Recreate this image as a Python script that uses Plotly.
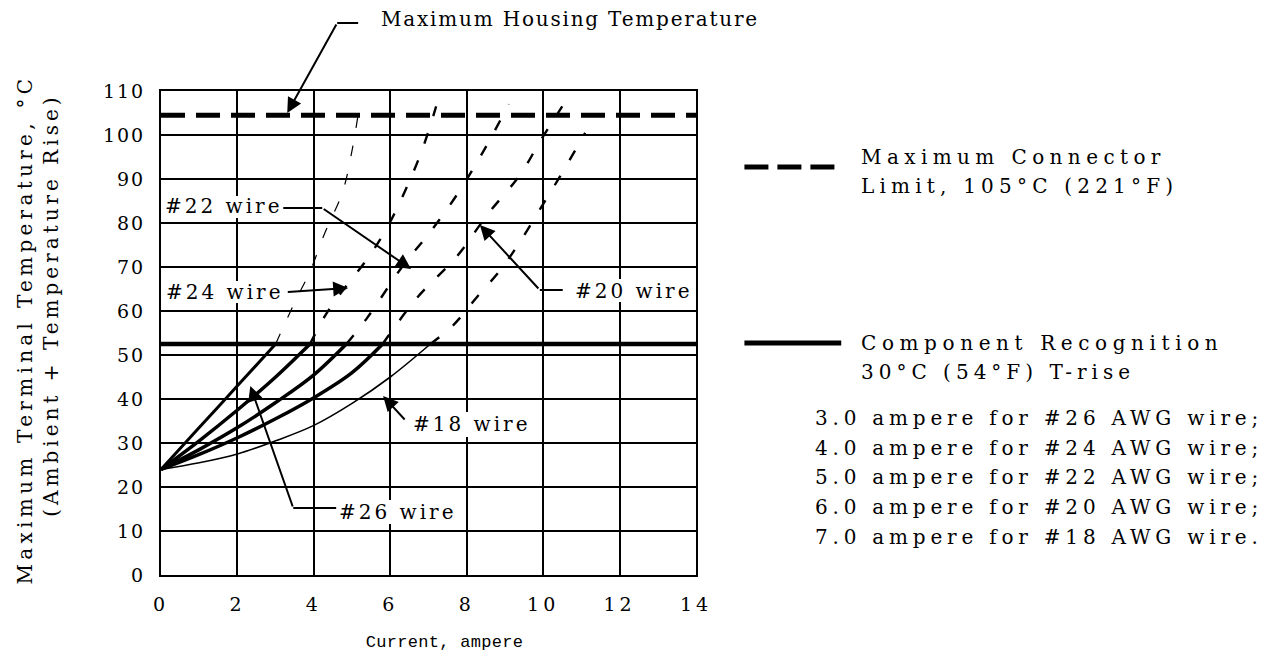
import json
import plotly.graph_objects as go

# ---------------- data ----------------
current_ticks = [0, 2, 4, 6, 8, 10, 12, 14]
temp_ticks = [0, 10, 20, 30, 40, 50, 60, 70, 80, 90, 100, 110]

wire_names = ["#26", "#24", "#22", "#20", "#18"]

# solid part (up to the 30 C T-rise line)
cur_26_solid = [0, 1, 2, 3.0]
tmp_26_solid = [24, 33.5, 43, 52.5]
cur_24_solid = [0, 1, 2, 3, 3.9]
tmp_24_solid = [24, 30.5, 37.5, 45, 52.5]
cur_22_solid = [0, 1, 2, 3, 4, 4.85]
tmp_22_solid = [24, 28.5, 33.5, 39.2, 45.5, 52.5]
cur_20_solid = [0, 1, 2, 3, 4, 5, 5.8]
tmp_20_solid = [24, 27.4, 31.2, 35.5, 40.3, 46, 52.5]
cur_18_solid = [0, 1, 2, 3, 4, 5, 6, 7.05]
tmp_18_solid = [24, 25.5, 27.5, 30.5, 34, 39, 45, 52.5]

# dashed extension above the T-rise line
cur_26_dash = [3.0, 3.5, 3.9, 4.3, 4.75, 5.0, 5.2]
tmp_26_dash = [52.5, 62, 69, 78, 87, 96.5, 107]
cur_24_dash = [3.9, 4.3, 4.7, 5.45, 5.95, 6.45, 6.85, 7.2]
tmp_24_dash = [52.5, 59, 64, 72.5, 79.5, 88.5, 97, 106.5]
cur_22_dash = [4.85, 5.4, 6.35, 7.05, 7.75, 8.45, 9.1]
tmp_22_dash = [52.5, 58.5, 70.5, 78, 86.5, 96.5, 107]
cur_20_dash = [5.8, 6.7, 7.75, 8.55, 9.4, 9.95, 10.5]
tmp_20_dash = [52.5, 63, 72.5, 82, 91, 99, 106.5]
cur_18_dash = [7.05, 7.65, 8.27, 8.88, 9.42, 10.0, 10.45, 10.95, 11.1]
tmp_18_dash = [52.5, 56.8, 63.2, 69.3, 76.1, 84.3, 90.7, 98.2, 100.5]

connector_limit = 104.5
recognition_limit = 52.5

rating_lines = [
    "3.0 ampere for #26 AWG wire;",
    "4.0 ampere for #24 AWG wire;",
    "5.0 ampere for #22 AWG wire;",
    "6.0 ampere for #20 AWG wire;",
    "7.0 ampere for #18 AWG wire.",
]

# ---------------- geometry helpers ----------------
W, H = 1268, 659
L, R, T, B = 160.5, 696.5, 91, 575
XMAX, YMAX = 14, 110


def dx(px):
    return (px - L) / (R - L) * XMAX


def dy(py):
    return (B - py) / (B - T) * YMAX


def pxp(px):
    return (px - L) / (R - L)


def pyp(py):
    return (B - py) / (B - T)


SERIF = "DejaVu Serif"
MONO = "Liberation Mono"

fig = go.Figure()

solid_sets = [
    (cur_26_solid, tmp_26_solid, 3.0),
    (cur_24_solid, tmp_24_solid, 3.5),
    (cur_22_solid, tmp_22_solid, 3.5),
    (cur_20_solid, tmp_20_solid, 3.5),
    (cur_18_solid, tmp_18_solid, 1.6),
]
dash_sets = [
    (cur_26_dash, tmp_26_dash, 1.2),
    (cur_24_dash, tmp_24_dash, 2.4),
    (cur_22_dash, tmp_22_dash, 2.4),
    (cur_20_dash, tmp_20_dash, 2.4),
    (cur_18_dash, tmp_18_dash, 2.4),
]
for name, (xs, ys, w) in zip(wire_names, solid_sets):
    fig.add_trace(go.Scatter(x=xs, y=ys, mode="lines", name=name,
                             line=dict(color="black", width=w),
                             line_shape="spline", hoverinfo="skip"))
for name, (xs, ys, w) in zip(wire_names, dash_sets):
    fig.add_trace(go.Scatter(x=xs, y=ys, mode="lines", name=name + " ext",
                             line=dict(color="black", width=w, dash="11px,18px"),
                             line_shape="spline", hoverinfo="skip"))

fig.add_trace(go.Scatter(x=[0, XMAX], y=[connector_limit] * 2, mode="lines",
                         line=dict(color="black", width=5, dash="24px,11px"),
                         hoverinfo="skip"))
fig.add_trace(go.Scatter(x=[0, XMAX], y=[recognition_limit] * 2, mode="lines",
                         line=dict(color="black", width=4.5), hoverinfo="skip"))

shapes = []
annotations = []
spacing = []  # letter-spacing per annotation index


def add_text(text, cx, cy, size=20, family=SERIF, ls="4px", angle=0, anchor="center"):
    annotations.append(dict(text=text, x=pxp(cx), y=pyp(cy), xref="paper", yref="paper",
                            showarrow=False, xanchor=anchor, yanchor="middle", align=anchor,
                            borderpad=0, textangle=angle,
                            font=dict(family=family, size=size, color="black")))
    spacing.append(ls)


def add_arrow(tail, tip):
    annotations.append(dict(text="", x=dx(tip[0]), y=dy(tip[1]), xref="x", yref="y",
                            ax=dx(tail[0]), ay=dy(tail[1]), axref="x", ayref="y",
                            showarrow=True, arrowhead=2, arrowsize=1.5, arrowwidth=2,
                            arrowcolor="black"))
    spacing.append("0px")


def seg(p0, p1, width=2, dash=None):
    line = dict(color="black", width=width)
    if dash:
        line["dash"] = dash
    shapes.append(dict(type="line", xref="paper", yref="paper",
                       x0=pxp(p0[0]), y0=pyp(p0[1]), x1=pxp(p1[0]), y1=pyp(p1[1]),
                       line=line, layer="above"))


def box(x0, y0, x1, y1):
    shapes.append(dict(type="rect", xref="paper", yref="paper",
                       x0=pxp(x0), y0=pyp(y0), x1=pxp(x1), y1=pyp(y1),
                       fillcolor="white", line=dict(width=0), layer="above"))


# label boxes inside plot
box(163, 196, 283, 218)
box(163, 281, 285, 303)
box(570, 279, 695, 302)
box(406, 412, 538, 437)
box(335, 500, 460, 524)

# leaders
seg((283, 208), (322, 208))
add_arrow((322, 208), (411, 269))
add_arrow((286, 292), (348, 288))
seg((563, 290), (540, 290))
add_arrow((540, 290), (480, 225))
add_arrow((406, 421), (383, 396))
seg((336, 508), (293, 508))
add_arrow((293, 508), (250, 386))
seg((358, 23), (337, 23))
add_arrow((337, 23), (287, 113))

# labels
add_text("#22 wire", 223, 206, ls="3px")
add_text("#24 wire", 224, 292, ls="3px")
add_text("#20 wire", 634, 291, ls="3px")
add_text("#18 wire", 472, 424, ls="3px")
add_text("#26 wire", 397, 512, ls="3px")
add_text("Maximum Housing Temperature", 380, 19, ls="1.8px", anchor="left")

# right block
seg((745, 167), (842, 167), width=5, dash="24px,9px")
seg((745, 343), (842, 343), width=5)
add_text("Maximum Connector", 861, 157, ls="5.4px", anchor="left")
add_text("Limit, 105°C (221°F)", 861, 186, ls="5.2px", anchor="left")
add_text("Component Recognition", 861, 343, ls="5.6px", anchor="left")
add_text("30°C (54°F) T-rise", 861, 372, ls="5px", anchor="left")
for i, t in enumerate(rating_lines):
    add_text(t, 815, 418 + i * 29.7, ls="4.8px", anchor="left")

# axis titles
add_text("Maximum Terminal Temperature, °C", 24, 330, ls="4.3px", angle=-90)
add_text("(Ambient + Temperature Rise)", 50, 305, ls="4px", angle=-90)
add_text("Current, ampere", 445, 642, size=17, family=MONO, ls="0.3px")

fig.update_layout(
    width=W, height=H,
    margin=dict(l=L, r=W - R, t=T, b=H - B, pad=0),
    paper_bgcolor="white", plot_bgcolor="white",
    showlegend=False,
    shapes=shapes, annotations=annotations,
)
fig.update_xaxes(range=[0, XMAX], tickvals=current_ticks, ticktext=[str(v) for v in current_ticks],
                 showgrid=True, gridcolor="black", gridwidth=1.6, zeroline=False,
                 showline=True, linecolor="black", linewidth=2, mirror=True,
                 ticks="", ticklabelstandoff=11,
                 tickfont=dict(family=SERIF, size=19, color="black"))
fig.update_yaxes(range=[0, YMAX], tickvals=temp_ticks, ticktext=[str(v) for v in temp_ticks],
                 showgrid=True, gridcolor="black", gridwidth=1.6, zeroline=False,
                 showline=True, linecolor="black", linewidth=2, mirror=True,
                 ticks="", ticklabelstandoff=10,
                 tickfont=dict(family=SERIF, size=19, color="black"))

post = """
document.body.style.margin='0';
var gd=document.getElementById('{plot_id}');
var sp=%s;
gd.querySelectorAll('g.annotation').forEach(function(g){
  var i=parseInt(g.getAttribute('data-index'));
  g.querySelectorAll('text').forEach(function(t){t.style.letterSpacing=sp[i];});
});
gd.querySelectorAll('.xtick text').forEach(function(t){t.style.letterSpacing='4px';});
gd.querySelectorAll('.ytick text').forEach(function(t){t.style.letterSpacing='2px';});
""" % json.dumps(spacing)

fig.write_html("out.html", post_script=post, config={"displayModeBar": False})
